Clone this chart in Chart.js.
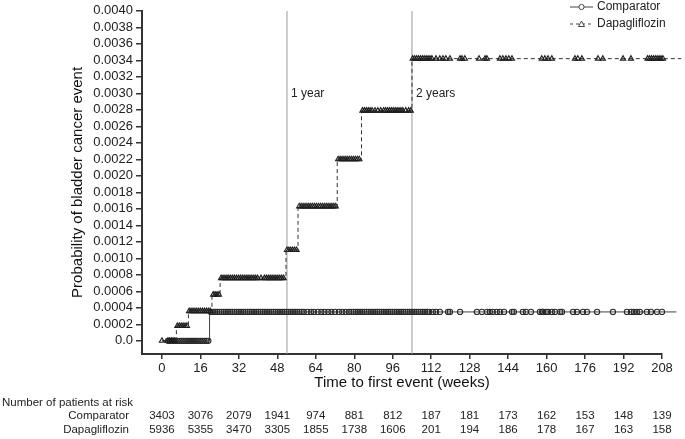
<!DOCTYPE html>
<html>
<head>
<meta charset="utf-8">
<script src="https://cdn.jsdelivr.net/npm/chart.js@4.4.0/dist/chart.umd.min.js"></script>
<style>
  html, body { margin: 0; padding: 0; background: #fff; }
</style>
</head>
<body>
<canvas id="km" width="685" height="439"></canvas>
<script>
// tick values
const weekTicks = [0, 16, 32, 48, 64, 80, 96, 112, 128, 144, 160, 176, 192, 208];
const probTicks = [0, 0.0002, 0.0004, 0.0006, 0.0008, 0.0010, 0.0012, 0.0014, 0.0016, 0.0018, 0.0020,
  0.0022, 0.0024, 0.0026, 0.0028, 0.0030, 0.0032, 0.0034, 0.0036, 0.0038, 0.0040];

// step functions (week the step happens, probability after it)
const compStepWeeks = [0, 19.8, 214];
const compStepProb = [0, 0.00035, 0.00035];
const dapaStepWeeks = [0, 6, 11, 20.8, 24.2, 51.6, 56.6, 72.9, 83, 104, 216];
const dapaStepProb = [0, 0.00018, 0.00036, 0.00056, 0.00076, 0.0011, 0.00163, 0.0022, 0.00279, 0.00342, 0.00342];

// censoring marks (weeks)
const compCensorWeeks = [
  2.5, 3.3, 4.1, 4.9, 5.7, 6.5, 7.3, 8.1, 8.9, 9.7, 10.5, 11.3, 12.1, 12.9, 13.7, 14.5, 15.3, 16.1, 16.9, 17.7, 18.5, 19.3,
  20.3, 21.2, 22.1, 23, 23.9, 24.8, 25.7, 26.6, 27.5, 28.4, 29.3, 30.2, 31.1, 32, 32.9, 33.8, 34.7, 35.6, 36.5, 37.4,
  38.3, 39.2, 40.1, 41, 41.9, 42.8, 43.7, 44.6, 45.5, 46.4, 47.3, 48.2, 49.1, 50, 50.9, 51.8, 52.7, 53.6, 54.5, 55.4,
  56.3, 57.2, 58.1, 59,
  60.5, 62, 63.2, 64.8, 66.3, 67.6, 69.2, 70.5, 72, 73.6, 75, 76.4, 77.8,
  78.8, 79.7, 80.6, 81.5, 82.4, 83.3, 84.2, 85.1, 86, 86.9, 87.8, 88.7, 89.6, 90.5, 91.4, 92.3, 93.2, 94.1, 95, 95.9,
  96.8, 97.7, 98.6, 99.5, 100.4, 101.3, 102.2, 103.1, 104, 104.9, 105.8, 106.7, 107.6, 108.5, 109.4, 110.3, 111.2,
  112.7, 114, 115.6, 119, 119.8, 124, 131, 133.1, 135.2, 136.4, 137.6, 139.3, 140.6, 142.3, 145.6, 146.4, 150.1,
  151.4, 153.5, 157.2, 158.1, 158.5, 159.7, 160.6, 162.2, 163.5, 165.6, 166.4, 171, 172.6, 175.1, 176.8, 181, 187.6,
  193.4, 195.1, 196.3, 197.6, 198.8, 201.7, 203.4, 205.9,
  208, 208.7, 209.4, 210.1, 210.8, 211.5, 212.2, 212.9, 213.6
];
const dapaCensorWeeks = [
  0, 2.5, 3.2, 3.9, 4.6, 5.3,
  6.4, 7.2, 8, 8.8, 9.6, 10.4,
  11.3, 12.1, 12.9, 13.7, 14.5, 15.3, 16.1, 16.9, 17.7, 18.5, 19.3, 20.1,
  21.3, 22.1, 22.9, 23.7,
  24.6, 25.4, 26.2, 27, 27.8, 28.6, 29.4, 30.2, 31, 31.8, 32.6, 33.4, 34.2, 35, 35.8, 36.6, 37.4, 38.2, 39, 39.8,
  41.2, 42.6, 43.4, 44.2, 45, 45.8, 46.6, 47.4, 48.2, 49, 49.8, 50.6,
  52, 52.8, 53.6, 54.4, 55.2, 56,
  57.1, 57.9, 58.7, 59.5, 60.3, 61.1, 61.9, 62.7, 63.5, 64.3, 65.1, 65.9, 66.7, 67.5, 68.3, 69.1, 69.9, 70.7, 71.5, 72.3,
  73.3, 74.1, 74.9, 75.7, 76.5, 77.3, 78.1, 78.9, 79.7, 80.5, 81.3, 82.1,
  83.4, 84.2, 85, 85.8, 86.6, 87.4, 88.6, 89.8, 91, 92.2, 93, 93.8, 94.6, 95.4, 96.2, 97, 97.8, 98.6, 99.4, 100.2,
  101.4, 102.6, 103.5,
  104.3, 105.1, 105.9, 106.7, 107.5, 108.3, 109.1, 109.9, 110.7, 111.5, 112.3,
  114, 115.6, 116.9, 118.1, 119.8, 124, 124.8, 126, 131.9, 134.4, 135.2, 140.6, 141.8, 143.1, 144.3, 145.6,
  158, 159.3, 160.6, 162.2, 171.8, 173, 174.7, 181.4, 183.4, 191.8, 195.1,
  202, 202.8, 203.6, 204.4, 205.2, 206, 206.8, 207.6, 208.4, 209.2, 210, 210.8, 211.6, 212.4, 213.2, 214, 214.8, 215.6
];

// patients at risk, one value per week tick
const compAtRisk = [3403, 3076, 2079, 1941, 974, 881, 812, 187, 181, 173, 162, 153, 148, 139];
const dapaAtRisk = [5936, 5355, 3470, 3305, 1855, 1738, 1606, 201, 194, 186, 178, 167, 163, 158];

const milestoneWeeks = [52, 104];
const milestoneLabels = ["1 year", "2 years"];

const FONT = '"Liberation Sans", Arial, Helvetica, sans-serif';
const Y_MIN = -0.00016;
const Y_MAX = 0.004;

function stepPoints(weeks, probs) {
  return weeks.map((w, i) => ({ x: w, y: probs[i] }));
}

function censorPoints(censor, weeks, probs) {
  return censor.map((t) => {
    let p = probs[0];
    weeks.forEach((w, i) => {
      if (w <= t) p = probs[i];
    });
    return { x: t, y: p };
  });
}

const annotate = {
  id: "annotate",
  afterDraw(chart) {
    const { ctx } = chart;
    const x = chart.scales.x;
    const y = chart.scales.y;
    ctx.save();
    ctx.fillStyle = "#222";
    ctx.textBaseline = "middle";

    // 1 year / 2 years
    ctx.font = "12px " + FONT;
    ctx.textAlign = "left";
    milestoneWeeks.forEach((w, i) => {
      ctx.fillText(milestoneLabels[i], x.getPixelForValue(w) + 4, y.getPixelForValue(0.003));
    });

    // legend
    const lx0 = 570, lx1 = 593, lxm = 581.5;
    ctx.strokeStyle = "#444";
    ctx.lineWidth = 1;
    ctx.beginPath();
    ctx.moveTo(lx0, 7);
    ctx.lineTo(lx1, 7);
    ctx.stroke();
    ctx.beginPath();
    ctx.fillStyle = "#fff";
    ctx.arc(lxm, 7, 2.6, 0, Math.PI * 2);
    ctx.fill();
    ctx.stroke();
    ctx.setLineDash([3, 3]);
    ctx.beginPath();
    ctx.moveTo(lx0, 24);
    ctx.lineTo(lx1, 24);
    ctx.stroke();
    ctx.setLineDash([]);
    ctx.beginPath();
    ctx.moveTo(lxm, 21);
    ctx.lineTo(lxm + 3, 26.5);
    ctx.lineTo(lxm - 3, 26.5);
    ctx.closePath();
    ctx.fill();
    ctx.stroke();
    ctx.fillStyle = "#222";
    ctx.fillText("Comparator", 597, 7);
    ctx.fillText("Dapagliflozin", 597, 24);

    // at-risk table
    ctx.font = "11.5px " + FONT;
    ctx.textAlign = "left";
    ctx.fillText("Number of patients at risk", 2, 403);
    ctx.textAlign = "right";
    ctx.fillText("Comparator", 129, 416);
    ctx.fillText("Dapagliflozin", 129, 430);
    ctx.textAlign = "center";
    weekTicks.forEach((w, i) => {
      const px = x.getPixelForValue(w);
      ctx.fillText(String(compAtRisk[i]), px, 416);
      ctx.fillText(String(dapaAtRisk[i]), px, 430);
    });
    ctx.restore();
  },
};

const refLines = milestoneWeeks.map((w) => ({
  data: [{ x: w, y: Y_MIN }, { x: w, y: Y_MAX }],
  showLine: true,
  borderColor: "#9a9a9a",
  borderWidth: 1,
  pointRadius: 0,
}));

const ctx = document.getElementById("km").getContext("2d");
new Chart(ctx, {
  type: "scatter",
  data: {
    datasets: [
      {
        label: "Dapagliflozin censored",
        data: censorPoints(dapaCensorWeeks, dapaStepWeeks, dapaStepProb),
        showLine: false,
        pointStyle: "triangle",
        pointRadius: 3,
        pointBorderWidth: 1.1,
        pointBorderColor: "#1e1e1e",
        pointBackgroundColor: "rgba(255,255,255,0)",
        clip: false,
      },
      {
        label: "Dapagliflozin",
        data: stepPoints(dapaStepWeeks, dapaStepProb),
        showLine: true,
        stepped: true,
        borderColor: "#333",
        borderWidth: 1,
        borderDash: [4, 3],
        pointRadius: 0,
        clip: false,
      },
      {
        label: "Comparator censored",
        data: censorPoints(compCensorWeeks, compStepWeeks, compStepProb),
        showLine: false,
        pointStyle: "circle",
        pointRadius: 2.6,
        pointBorderWidth: 1.1,
        pointBorderColor: "#2a2a2a",
        pointBackgroundColor: "rgba(255,255,255,0)",
        clip: false,
      },
      {
        label: "Comparator",
        data: stepPoints(compStepWeeks, compStepProb),
        showLine: true,
        stepped: true,
        borderColor: "#444",
        borderWidth: 1,
        pointRadius: 0,
        clip: false,
      },
      ...refLines,
    ],
  },
  options: {
    responsive: false,
    animation: false,
    events: [],
    layout: { padding: { top: 0, right: 23, bottom: 0, left: 0 } },
    plugins: { legend: { display: false }, tooltip: { enabled: false } },
    scales: {
      x: {
        type: "linear",
        min: -8.3,
        max: 208,
        afterBuildTicks: (s) => { s.ticks = weekTicks.map((v) => ({ value: v })); },
        afterFit: (s) => { s.height = 85; },
        ticks: { autoSkip: false, maxRotation: 0, padding: 2, color: "#222", font: { family: FONT, size: 13 } },
        grid: { drawOnChartArea: false, drawTicks: true, tickLength: 5, color: "#333", lineWidth: 1.5 },
        border: { display: true, color: "#333", width: 2 },
        title: {
          display: true,
          text: "Time to first event (weeks)",
          color: "#111",
          font: { family: FONT, size: 15 },
          padding: { top: 0, bottom: 47 },
        },
      },
      y: {
        type: "linear",
        min: Y_MIN,
        max: Y_MAX,
        afterBuildTicks: (s) => { s.ticks = probTicks.map((v) => ({ value: v })); },
        afterFit: (s) => { s.width = 142; },
        ticks: {
          autoSkip: false,
          padding: 3,
          color: "#222",
          font: { family: FONT, size: 13 },
          callback: (v) => (Math.abs(v) < 1e-9 ? "0.0" : v.toFixed(4)),
        },
        grid: { drawOnChartArea: false, drawTicks: true, tickLength: 6, color: "#333", lineWidth: 1.5 },
        border: { display: true, color: "#333", width: 2 },
        title: {
          display: true,
          text: "Probability of bladder cancer event",
          color: "#111",
          font: { family: FONT, size: 15 },
          padding: { top: 69, bottom: 0 },
        },
      },
    },
  },
  plugins: [annotate],
});
</script>
</body>
</html>
